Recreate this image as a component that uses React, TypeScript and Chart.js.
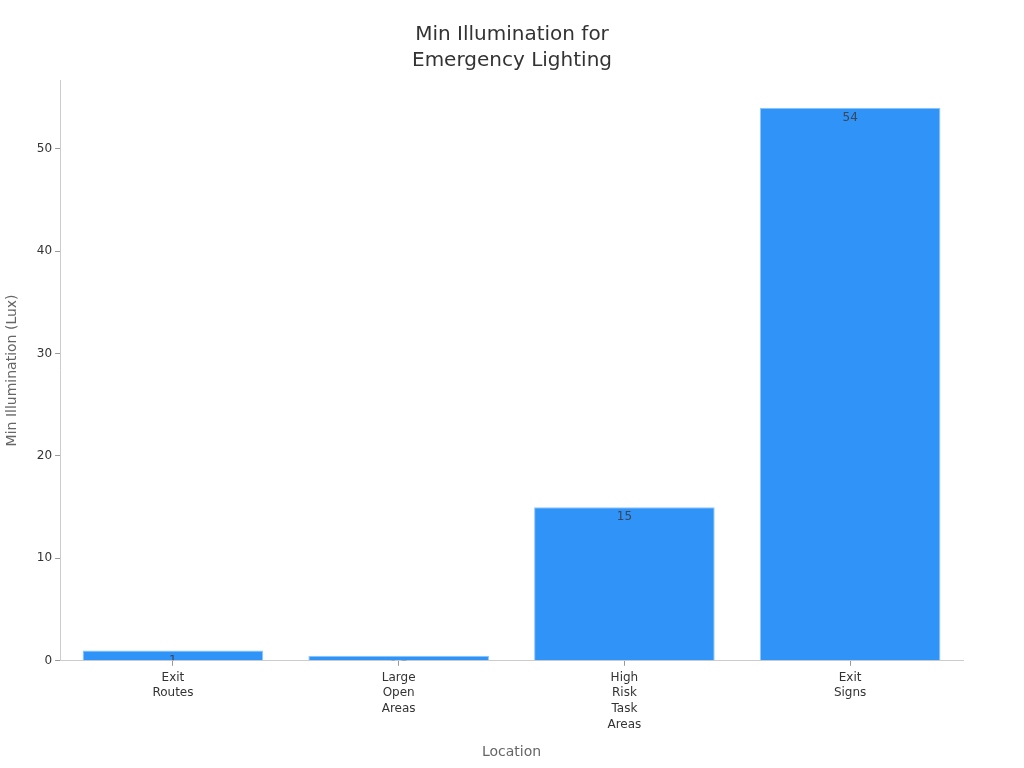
import React, { useEffect, useRef } from 'react';
import { Chart, registerables } from 'chart.js';

Chart.register(...registerables);

// --- data ---
const locations: string[][] = [
  ['Exit', 'Routes'],
  ['Large', 'Open', 'Areas'],
  ['High', 'Risk', 'Task', 'Areas'],
  ['Exit', 'Signs'],
];
const minLux: number[] = [1, 0.5, 15, 54];
const yTicks: number[] = [0, 10, 20, 30, 40, 50];

const FONT = "'DejaVu Sans', sans-serif";

// value labels drawn just under each bar top, clipped to the bar
const barLabels = {
  id: 'barLabels',
  afterDatasetsDraw(chart: any) {
    const ctx = chart.ctx;
    const meta = chart.getDatasetMeta(0);
    meta.data.forEach((bar: any, i: number) => {
      const { x, y, base, width } = bar.getProps(['x', 'y', 'base', 'width'], true);
      ctx.save();
      ctx.beginPath();
      ctx.rect(x - width / 2, y, width, base - y);
      ctx.clip();
      ctx.fillStyle = '#3b4656';
      ctx.font = `12px ${FONT}`;
      ctx.textAlign = 'center';
      ctx.textBaseline = 'middle';
      ctx.fillText(String(minLux[i]), x, y + 10);
      ctx.restore();
    });
  },
};

export default function App() {
  const canvasRef = useRef<HTMLCanvasElement>(null);

  useEffect(() => {
    const ctx = canvasRef.current?.getContext('2d');
    if (!ctx) return;

    const chart = new Chart(ctx, {
      type: 'bar',
      data: {
        labels: locations,
        datasets: [{
          data: minLux,
          backgroundColor: '#2f93f8',
          borderColor: '#8cc6fc',
          borderWidth: 1,
          barPercentage: 0.8,
          categoryPercentage: 1,
        }],
      },
      options: {
        animation: false,
        responsive: true,
        maintainAspectRatio: false,
        layout: { padding: { top: 0, right: 0, bottom: 7, left: 0 } },
        plugins: {
          legend: { display: false },
          tooltip: { enabled: false },
          title: {
            display: true,
            text: ['Min Illumination for', 'Emergency Lighting'],
            color: '#333333',
            font: { family: FONT, size: 20, weight: 'normal', lineHeight: 1.3 },
            padding: { top: 22, bottom: 6 },
          },
        },
        scales: {
          x: {
            grid: { display: true, offset: false, drawOnChartArea: false, drawTicks: true, tickLength: 5, color: '#999999' },
            border: { display: true, color: '#cccccc' },
            ticks: {
              color: '#333333',
              font: { family: FONT, size: 12, lineHeight: 1.3 },
              maxRotation: 0,
              padding: 4,
            },
            title: {
              display: true,
              text: 'Location',
              color: '#666666',
              font: { family: FONT, size: 14 },
              padding: { top: 8, bottom: 0 },
            },
          },
          y: {
            min: 0,
            max: 56.7,
            afterBuildTicks: (axis: any) => {
              axis.ticks = yTicks.map((v) => ({ value: v }));
            },
            grid: { display: true, drawOnChartArea: false, drawTicks: true, tickLength: 5, color: '#999999' },
            border: { display: true, color: '#cccccc' },
            ticks: {
              color: '#333333',
              font: { family: FONT, size: 12 },
              padding: 3,
            },
            title: {
              display: true,
              text: 'Min Illumination (Lux)',
              color: '#666666',
              font: { family: FONT, size: 14 },
              padding: { top: 4, bottom: 13 },
            },
          },
          // empty right-side gutter so the title stays centred on the page
          yRight: {
            position: 'right',
            display: true,
            grid: { display: false },
            border: { display: false },
            ticks: { display: false },
            afterFit: (axis: any) => {
              axis.width = 61;
            },
          },
        },
      },
      plugins: [barLabels],
    });

    return () => chart.destroy();
  }, []);

  return (
    <div style={{ position: 'absolute', left: 0, top: 0, width: 1024, height: 768, background: '#ffffff' }}>
      <canvas ref={canvasRef}></canvas>
    </div>
  );
}
